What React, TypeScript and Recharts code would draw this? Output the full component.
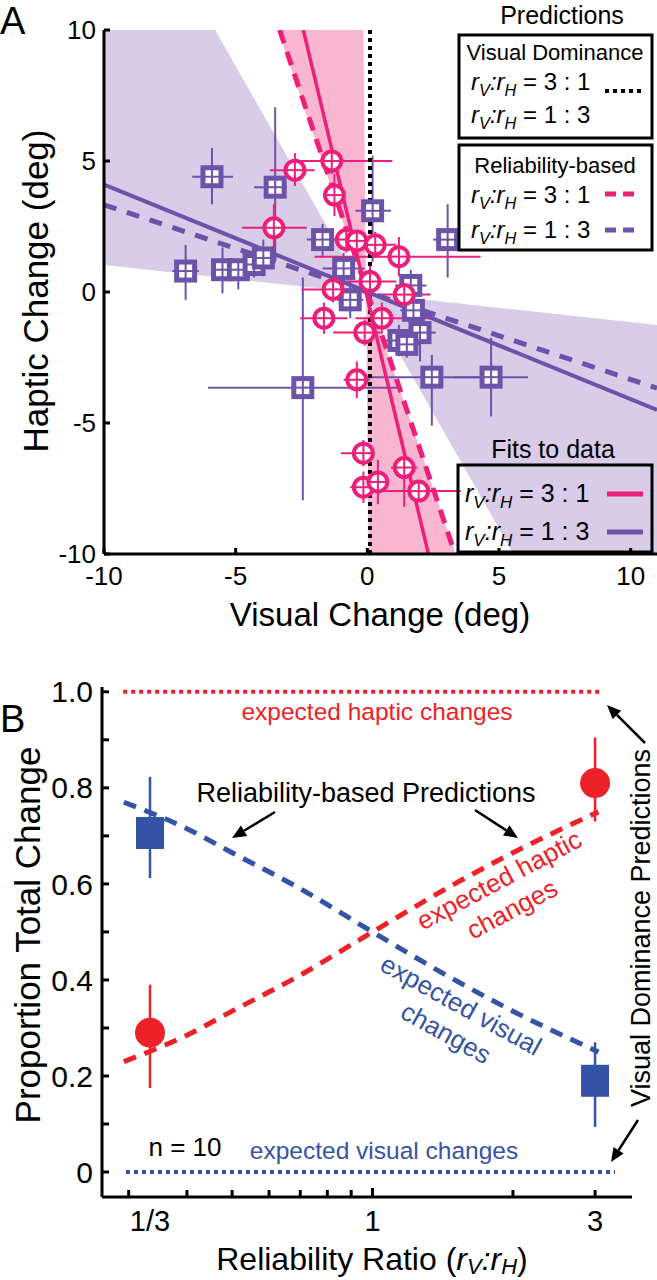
import React from 'react';
import {
  ComposedChart,
  XAxis,
  YAxis,
  Line,
  Area,
  Scatter,
  ErrorBar,
  ReferenceLine,
} from 'recharts';

const FONT = "'Liberation Sans', Arial, Helvetica, sans-serif";
const PINK = '#ee1f7a';
const PINK_BAND = '#f9b6d1';
const PURPLE = '#6c53a9';
const PURPLE_BAND = '#d9cce8';
const RED = '#ec2228';
const BLUE = '#3553a6';

// ---------- panel A data ----------
const xTicksA = [-10, -5, 0, 5, 10];
const yTicksA = [-10, -5, 0, 5, 10];

// rv:rH = 1:3 (purple squares); ex / ey = [minus, plus]
const purpleSquares = [
  { x: -5.9, y: 4.4, ex: [0.75, 0.8], ey: [1.05, 1.1] },
  { x: -3.5, y: 4.0, ex: [0.8, 0.45], ey: [2.8, 3.05] },
  { x: -6.9, y: 0.8, ex: [0.5, 0.5], ey: [1.1, 1.0] },
  { x: -5.5, y: 0.85, ex: [0.4, 0.4], ey: [0.9, 0.85] },
  { x: -4.9, y: 0.85, ex: [0.3, 0.3], ey: [0.75, 0.4] },
  { x: -4.3, y: 1.05, ex: [0.4, 0.3], ey: [0.5, 0.5] },
  { x: -3.95, y: 1.3, ex: [0.5, 0.5], ey: [0.7, 0.7] },
  { x: -1.7, y: 2.0, ex: [0.6, 0.6], ey: [0.7, 0.6] },
  { x: 0.2, y: 3.1, ex: [0.65, 0.7], ey: [1.95, 2.1] },
  { x: 3.05, y: 2.0, ex: [0.55, 0.45], ey: [1.45, 1.35] },
  { x: -0.9, y: 0.9, ex: [0.8, 0.8], ey: [0.6, 0.6] },
  { x: -0.65, y: -0.3, ex: [0.5, 0.5], ey: [0.7, 0.7] },
  { x: 1.65, y: 0.25, ex: [0.6, 0.6], ey: [0.6, 0.6] },
  { x: -2.45, y: -3.65, ex: [3.6, 3.6], ey: [4.3, 4.2] },
  { x: 2.45, y: -3.25, ex: [2.4, 1.8], ey: [1.85, 0.85] },
  { x: 4.7, y: -3.25, ex: [1.4, 1.4], ey: [1.5, 1.5] },
  { x: 1.2, y: -1.85, ex: [0.6, 0.6], ey: [0.6, 0.6] },
  { x: 2.0, y: -1.55, ex: [0.6, 0.6], ey: [1.1, 1.1] },
  { x: 1.5, y: -2.0, ex: [0.5, 0.5], ey: [0.5, 0.5] },
  { x: 1.75, y: -0.7, ex: [0.5, 0.5], ey: [0.5, 0.5] },
];

// rv:rH = 3:1 (pink circles)
const pinkCircles = [
  { x: -2.75, y: 4.65, ex: [0.95, 0.75], ey: [0.6, 0.65] },
  { x: -1.35, y: 5.0, ex: [1.2, 2.3], ey: [0.5, 0.5] },
  { x: -1.25, y: 3.7, ex: [0.4, 0.4], ey: [0.8, 0.8] },
  { x: -3.55, y: 2.45, ex: [1.2, 1.25], ey: [0.9, 0.9] },
  { x: -0.8, y: 2.0, ex: [0.5, 0.5], ey: [0.5, 0.5] },
  { x: -0.4, y: 1.95, ex: [0.4, 0.4], ey: [0.4, 0.4] },
  { x: 0.3, y: 1.8, ex: [0.8, 0.8], ey: [0.5, 0.5] },
  { x: 1.2, y: 1.35, ex: [3.2, 3.1], ey: [0.75, 0.75] },
  { x: 0.1, y: 0.4, ex: [1.2, 1.0], ey: [0.6, 0.6] },
  { x: -1.3, y: 0.1, ex: [1.2, 1.2], ey: [0.5, 0.5] },
  { x: 1.4, y: -0.1, ex: [1.0, 1.0], ey: [0.6, 0.6] },
  { x: -1.65, y: -1.0, ex: [0.9, 0.9], ey: [0.6, 0.6] },
  { x: 0.55, y: -1.0, ex: [1.0, 1.9], ey: [0.6, 0.6] },
  { x: -0.1, y: -1.55, ex: [1.2, 0.6], ey: [0.5, 0.5] },
  { x: -0.4, y: -3.35, ex: [0.5, 0.5], ey: [0.7, 0.7] },
  { x: -0.15, y: -6.15, ex: [0.85, 0.4], ey: [0.5, 0.5] },
  { x: -0.15, y: -7.45, ex: [0.5, 0.5], ey: [0.6, 0.6] },
  { x: 0.4, y: -7.25, ex: [0.3, 0.3], ey: [0.85, 0.85] },
  { x: 1.4, y: -6.7, ex: [0.5, 0.5], ey: [1.5, 0.4] },
  { x: 1.95, y: -7.6, ex: [1.55, 1.6], ey: [0.4, 0.4] },
];

// confidence bands, [low, high] at each x
const purpleBand = [
  { x: -10, band: [1.03, 10] },
  { x: -5.78, band: [0.57, 10] },
  { x: -0.09, band: [-0.05, -0.05] },
  { x: 5.55, band: [-10, -0.66] },
  { x: 11, band: [-10, -1.26] },
];
const pinkBand = [
  { x: -3.4, band: [10, 10] },
  { x: -0.15, band: [0.37, 10] },
  { x: -0.05, band: [0.07, 0.07] },
  { x: 0.05, band: [-10, -0.22] },
  { x: 3.35, band: [-10, -10] },
];

const pinkFit = [
  { x: -2.43, y: 10 },
  { x: 2.32, y: -10 },
];
const pinkPrediction = [
  { x: -3.33, y: 10 },
  { x: 3.33, y: -10 },
];
const purpleFit = [
  { x: -10, y: 4.1 },
  { x: 11, y: -4.5 },
];
const purplePrediction = [
  { x: -10, y: 3.33 },
  { x: 11, y: -3.67 },
];
const visualDominanceX = 0.1;

// ---------- panel B data ----------
const ratios = [1 / 3, 3];
const hapticMean = [0.29, 0.81];
const hapticErr = [
  [0.115, 0.1],
  [0.08, 0.095],
];
const visualMean = [0.706, 0.19];
const visualErr = [
  [0.094, 0.117],
  [0.096, 0.08],
];

const curveRatios = [0.293, 0.4, 0.5, 0.7, 1, 1.5, 2, 3.05];
const visualPred = [0.77, 0.715, 0.665, 0.59, 0.5, 0.4, 0.335, 0.25];
const hapticPred = [0.23, 0.285, 0.335, 0.41, 0.5, 0.6, 0.665, 0.75];

const hapticDominance = [
  { r: 0.292, v: 1 },
  { r: 3.1, v: 1 },
];
const visualDominance = [
  { r: 0.296, v: 0 },
  { r: 3.31, v: 0 },
];

const xTicksB = [0.3, 1 / 3, 0.4, 0.5, 0.6, 0.7, 0.8, 0.9, 1, 2, 3];
const yTicksB = [0, 0.1, 0.2, 0.3, 0.4, 0.5, 0.6, 0.7, 0.8, 0.9, 1];
const yLabelsB: Record<number, string> = { 0: '0', 0.2: '0.2', 0.4: '0.4', 0.6: '0.6', 0.8: '0.8', 1: '1.0' };

const hapticPoints = ratios.map((r, i) => ({ r, v: hapticMean[i], err: hapticErr[i] }));
const visualPoints = ratios.map((r, i) => ({ r, v: visualMean[i], err: visualErr[i] }));
const hapticCurve = curveRatios.map((r, i) => ({ r, v: hapticPred[i] }));
const visualCurve = curveRatios.map((r, i) => ({ r, v: visualPred[i] }));

// ---------- markers ----------
const SquareMark = (p: any) => (
  <g>
    <rect x={p.cx - 9} y={p.cy - 9} width={18} height={18} fill="#fff" stroke={PURPLE} strokeWidth={5} />
    <line x1={p.cx - 9} x2={p.cx + 9} y1={p.cy} y2={p.cy} stroke={PURPLE} strokeWidth={2} />
    <line x1={p.cx} x2={p.cx} y1={p.cy - 9} y2={p.cy + 9} stroke={PURPLE} strokeWidth={2} />
  </g>
);

const CircleMark = (p: any) => (
  <g>
    <circle cx={p.cx} cy={p.cy} r={9.5} fill="#fff" stroke={PINK} strokeWidth={4} />
    <line x1={p.cx - 10} x2={p.cx + 10} y1={p.cy} y2={p.cy} stroke={PINK} strokeWidth={2} />
    <line x1={p.cx} x2={p.cx} y1={p.cy - 10} y2={p.cy + 10} stroke={PINK} strokeWidth={2} />
  </g>
);

const RedDot = (p: any) => <circle cx={p.cx} cy={p.cy} r={15} fill={RED} />;
const BlueSquare = (p: any) => <rect x={p.cx - 14} y={p.cy - 16} width={28} height={32} fill={BLUE} />;

const RatioTick = (p: any) => {
  const v = p.payload.value;
  const isThird = Math.abs(v - 1 / 3) < 1e-6;
  const label = isThird ? '1/3' : v === 1 ? '1' : v === 3 ? '3' : '';
  return (
    <g>
      {!isThird && <line x1={p.x} x2={p.x} y1={p.y} y2={p.y - (v === 1 ? 9 : 7)} stroke="#000" strokeWidth={3} />}
      {label && (
        <text x={p.x} y={p.y + 34} textAnchor="middle" fontSize={29} fontFamily={FONT} fill="#000">
          {label}
        </text>
      )}
    </g>
  );
};

// ---------- annotation helpers ----------
const Ratio = ({ x, y, size, tail, anchor }: any) => (
  <text x={x} y={y} fontSize={size} fontFamily={FONT} fill="#000" textAnchor={anchor || 'start'}>
    <tspan fontStyle="italic">r</tspan>
    <tspan fontStyle="italic" fontSize={size * 0.68} dy={size * 0.25}>V</tspan>
    <tspan fontStyle="italic" dy={-size * 0.25}>:</tspan>
    <tspan fontStyle="italic">r</tspan>
    <tspan fontStyle="italic" fontSize={size * 0.68} dy={size * 0.25}>H</tspan>
    <tspan dy={-size * 0.25}>{tail}</tspan>
  </text>
);

const Arrow = ({ x1, y1, x2, y2 }: any) => {
  const a = Math.atan2(y2 - y1, x2 - x1);
  const L = 14;
  const W = 6;
  const bx = x2 - L * Math.cos(a);
  const by = y2 - L * Math.sin(a);
  const pts = `${x2},${y2} ${bx - W * Math.sin(a)},${by + W * Math.cos(a)} ${bx + W * Math.sin(a)},${by - W * Math.cos(a)}`;
  return (
    <g>
      <line x1={x1} y1={y1} x2={bx} y2={by} stroke="#000" strokeWidth={2.5} />
      <polygon points={pts} fill="#000" />
    </g>
  );
};

const Label = ({ x, y, size, color, rotate, children }: any) => (
  <text
    x={x}
    y={y}
    fontSize={size}
    fontFamily={FONT}
    fill={color || '#000'}
    textAnchor="middle"
    dominantBaseline="central"
    transform={rotate ? `rotate(${rotate} ${x} ${y})` : undefined}
  >
    {children}
  </text>
);

const axisStyle = { stroke: '#000', strokeWidth: 3 };

const ChartA = () => (
  <ComposedChart width={657} height={620} margin={{ top: 30, right: 0, left: 0, bottom: 0 }}>
    <XAxis
      type="number"
      dataKey="x"
      domain={[-10, 11]}
      ticks={xTicksA}
      interval={0}
      allowDataOverflow
      height={66}
      axisLine={axisStyle}
      tickLine={axisStyle}
      tickSize={-6}
      tickMargin={19}
      tick={{ fill: '#000', fontSize: 26, fontFamily: FONT }}
    />
    <YAxis
      type="number"
      dataKey="y"
      domain={[-10, 10]}
      ticks={yTicksA}
      interval={0}
      allowDataOverflow
      width={104}
      axisLine={axisStyle}
      tickLine={axisStyle}
      tickSize={-6}
      tickMargin={14}
      tick={{ fill: '#000', fontSize: 26, fontFamily: FONT }}
    />
    <Area data={purpleBand} dataKey="band" type="linear" fill={PURPLE_BAND} fillOpacity={1} stroke="none" isAnimationActive={false} />
    <Area data={pinkBand} dataKey="band" type="linear" fill={PINK_BAND} fillOpacity={1} stroke="none" isAnimationActive={false} />
    <Scatter data={purpleSquares} shape={SquareMark} isAnimationActive={false}>
      <ErrorBar dataKey="ex" direction="x" width={0} stroke={PURPLE} strokeWidth={2} isAnimationActive={false} />
      <ErrorBar dataKey="ey" direction="y" width={0} stroke={PURPLE} strokeWidth={2} isAnimationActive={false} />
    </Scatter>
    <Scatter data={pinkCircles} shape={CircleMark} isAnimationActive={false}>
      <ErrorBar dataKey="ex" direction="x" width={0} stroke={PINK} strokeWidth={2} isAnimationActive={false} />
      <ErrorBar dataKey="ey" direction="y" width={0} stroke={PINK} strokeWidth={2} isAnimationActive={false} />
    </Scatter>
    <ReferenceLine x={visualDominanceX} stroke="#000" strokeWidth={4} strokeDasharray="4 4" />
    <Line data={purplePrediction} dataKey="y" stroke={PURPLE} strokeWidth={5} strokeDasharray="13 11" dot={false} isAnimationActive={false} />
    <Line data={pinkPrediction} dataKey="y" stroke={PINK} strokeWidth={5} strokeDasharray="14 9" dot={false} isAnimationActive={false} />
    <Line data={purpleFit} dataKey="y" stroke={PURPLE} strokeWidth={4} dot={false} isAnimationActive={false} />
    <Line data={pinkFit} dataKey="y" stroke={PINK} strokeWidth={3.5} dot={false} isAnimationActive={false} />
  </ComposedChart>
);

const ChartB = () => (
  <ComposedChart width={657} height={640} margin={{ top: 47, right: 25, left: 0, bottom: 0 }}>
    <XAxis
      type="number"
      scale="log"
      dataKey="r"
      domain={[0.263, 3.6]}
      allowDataOverflow
      ticks={xTicksB}
      interval={0}
      height={83}
      axisLine={axisStyle}
      tickLine={false}
      tickSize={0}
      tickMargin={0}
      tick={(p: any) => <RatioTick {...p} />}
    />
    <YAxis
      type="number"
      dataKey="v"
      domain={[-0.052, 1.01]}
      allowDataOverflow
      ticks={yTicksB}
      interval={0}
      width={102}
      axisLine={axisStyle}
      tickLine={axisStyle}
      tickSize={-7}
      tickMargin={16}
      tickFormatter={(v: number) => yLabelsB[v] ?? ''}
      tick={{ fill: '#000', fontSize: 30, fontFamily: FONT }}
    />
    <Line data={hapticDominance} dataKey="v" stroke={RED} strokeWidth={4} strokeDasharray="4 4" dot={false} isAnimationActive={false} />
    <Line data={visualDominance} dataKey="v" stroke={BLUE} strokeWidth={4} strokeDasharray="4 4" dot={false} isAnimationActive={false} />
    <Line data={visualCurve} dataKey="v" type="monotone" stroke={BLUE} strokeWidth={5} strokeDasharray="13 9" dot={false} isAnimationActive={false} />
    <Line data={hapticCurve} dataKey="v" type="monotone" stroke={RED} strokeWidth={5} strokeDasharray="13 9" dot={false} isAnimationActive={false} />
    <Scatter data={visualPoints} shape={BlueSquare} isAnimationActive={false}>
      <ErrorBar dataKey="err" direction="y" width={0} stroke={BLUE} strokeWidth={2.5} isAnimationActive={false} />
    </Scatter>
    <Scatter data={hapticPoints} shape={RedDot} isAnimationActive={false}>
      <ErrorBar dataKey="err" direction="y" width={0} stroke={RED} strokeWidth={2.5} isAnimationActive={false} />
    </Scatter>
  </ComposedChart>
);

const Overlay = () => (
  <svg width={657} height={1280} style={{ position: 'absolute', left: 0, top: 0, pointerEvents: 'none' }}>
    {/* panel A */}
    <text x={0} y={34} fontSize={38} fontFamily={FONT} fill="#000">A</text>
    <Label x={35} y={291} size={35} rotate={-90}>Haptic Change (deg)</Label>
    <Label x={380} y={614} size={33}>Visual Change (deg)</Label>

    <Label x={562} y={15} size={25}>Predictions</Label>
    <rect x={459} y={35} width={193} height={103} fill="none" stroke="#000" strokeWidth={3} />
    <Label x={555} y={52} size={22}>Visual Dominance</Label>
    <Ratio x={471} y={90} size={24} tail=" = 3 : 1" />
    <Ratio x={471} y={123} size={24} tail=" = 1 : 3" />
    <line x1={605} x2={641} y1={91} y2={91} stroke="#000" strokeWidth={4} strokeDasharray="4 4" />

    <rect x={459} y={145} width={193} height={105} fill="none" stroke="#000" strokeWidth={3} />
    <Label x={555} y={165} size={22}>Reliability-based</Label>
    <Ratio x={471} y={203} size={24} tail=" = 3 : 1" />
    <Ratio x={471} y={238} size={24} tail=" = 1 : 3" />
    <line x1={605} x2={634} y1={194} y2={194} stroke={PINK} strokeWidth={5} strokeDasharray="11 7" />
    <line x1={605} x2={634} y1={230} y2={230} stroke={PURPLE} strokeWidth={5} strokeDasharray="11 7" />

    <Label x={553} y={449} size={25}>Fits to data</Label>
    <rect x={458} y={465} width={194} height={87} fill="none" stroke="#000" strokeWidth={3} />
    <Ratio x={465} y={502} size={25} tail=" = 3 : 1" />
    <Ratio x={465} y={540} size={25} tail=" = 1 : 3" />
    <line x1={607} x2={643} y1={494} y2={494} stroke={PINK} strokeWidth={5} />
    <line x1={607} x2={643} y1={532} y2={532} stroke={PURPLE} strokeWidth={5} />

    {/* panel B */}
    <text x={0} y={732} fontSize={38} fontFamily={FONT} fill="#000">B</text>
    <Label x={27} y={935} size={35} rotate={-90}>Proportion Total Change</Label>
    <text x={372} y={1270} fontSize={32} fontFamily={FONT} fill="#000" textAnchor="middle">
      Reliability Ratio (
      <tspan fontStyle="italic">r</tspan>
      <tspan fontStyle="italic" fontSize={22} dy={4}>V</tspan>
      <tspan fontStyle="italic" dy={-4}>:</tspan>
      <tspan fontStyle="italic">r</tspan>
      <tspan fontStyle="italic" fontSize={22} dy={4}>H</tspan>
      <tspan dy={-4}>)</tspan>
    </text>

    <Label x={377} y={711} size={24.5} color={RED}>expected haptic changes</Label>
    <Label x={366} y={793} size={27}>Reliability-based Predictions</Label>
    <Arrow x1={275} y1={812} x2={232} y2={838} />
    <Arrow x1={475} y1={810} x2={518} y2={838} />
    <Label x={499} y={880} size={26} color={RED} rotate={-28}>expected haptic</Label>
    <Label x={512} y={909} size={26} color={RED} rotate={-28}>changes</Label>
    <Label x={461} y={1005} size={26} color={BLUE} rotate={29}>expected visual</Label>
    <Label x={446} y={1033} size={26} color={BLUE} rotate={29}>changes</Label>
    <Label x={185} y={1147} size={26}>n = 10</Label>
    <Label x={384} y={1150} size={24.5} color={BLUE}>expected visual changes</Label>
    <Label x={641} y={928} size={27} rotate={-90}>Visual Dominance Predictions</Label>
    <Arrow x1={645} y1={743} x2={607} y2={705} />
    <Arrow x1={638} y1={1120} x2={611} y2={1162} />
  </svg>
);

const App = () => (
  <div style={{ position: 'absolute', left: 0, top: 0, width: 657, height: 1280, background: '#fff', overflow: 'hidden' }}>
    <div style={{ position: 'absolute', left: 0, top: 0 }}>
      <ChartA />
    </div>
    <div style={{ position: 'absolute', left: 0, top: 640 }}>
      <ChartB />
    </div>
    <Overlay />
  </div>
);

export default App;
